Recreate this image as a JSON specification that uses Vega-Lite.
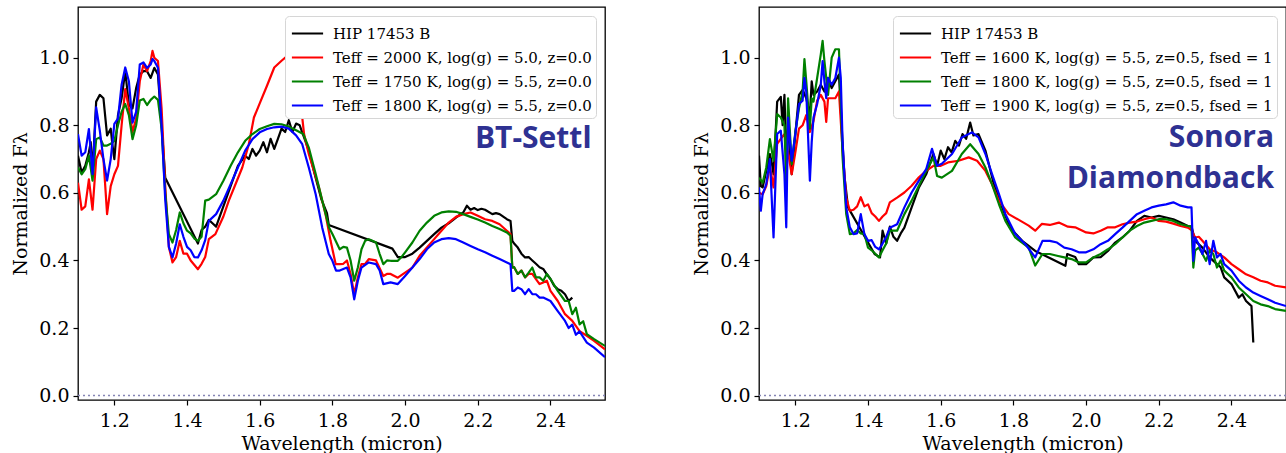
{
"$schema": "https://vega.github.io/schema/vega-lite/v6.json",
"background": "white",
"padding": {"left": 11, "top": 6, "right": 0, "bottom": 0},
"config": {
  "view": {"stroke": "black", "strokeWidth": 1.3},
  "axis": {"labelFont": "DejaVu Serif", "labelFontSize": 19, "labelColor": "black", "titleFont": "DejaVu Serif", "titleFontSize": 19, "titleFontWeight": "normal", "titleColor": "black", "domain": false, "grid": false, "tickColor": "black", "tickSize": 5, "tickWidth": 1.2, "labelPadding": 4},
  "axisX": {"labelPadding": 6, "titlePadding": 4},
  "axisY": {"titlePadding": 8},
  "legend": {"orient": "top-right", "offset": 9, "fillColor": "white", "strokeColor": "#d6d6d6", "cornerRadius": 4, "padding": 4, "labelFont": "DejaVu Serif", "labelFontSize": 15, "labelColor": "black", "labelLimit": 0, "symbolType": "M-1.3,0H1.3", "symbolSize": 576, "symbolStrokeWidth": 2.2, "symbolOffset": 5, "rowPadding": 2, "labelOffset": 12, "title": null}
},
"datasets": {
"bt": [
{"s":"HIP","w":1.10,"f":0.71},{"s":"HIP","w":1.11,"f":0.66},{"s":"HIP","w":1.12,"f":0.68},{"s":"HIP","w":1.13,"f":0.72},{"s":"HIP","w":1.135,"f":0.75},{"s":"HIP","w":1.14,"f":0.66},{"s":"HIP","w":1.15,"f":0.87},{"s":"HIP","w":1.16,"f":0.89},{"s":"HIP","w":1.17,"f":0.88},{"s":"HIP","w":1.18,"f":0.77},{"s":"HIP","w":1.19,"f":0.79},{"s":"HIP","w":1.195,"f":0.74},{"s":"HIP","w":1.20,"f":0.70},{"s":"HIP","w":1.21,"f":0.83},{"s":"HIP","w":1.22,"f":0.88},{"s":"HIP","w":1.23,"f":0.96},{"s":"HIP","w":1.24,"f":0.86},{"s":"HIP","w":1.25,"f":0.85},{"s":"HIP","w":1.26,"f":0.91},{"s":"HIP","w":1.27,"f":0.95},{"s":"HIP","w":1.28,"f":0.96},{"s":"HIP","w":1.29,"f":0.96},{"s":"HIP","w":1.30,"f":0.94},{"s":"HIP","w":1.31,"f":0.97},{"s":"HIP","w":1.32,"f":0.95},{"s":"HIP","w":1.33,"f":0.80},{"s":"HIP","w":1.34,"f":0.645},{"s":"HIP","w":1.43,"f":0.45},{"s":"HIP","w":1.44,"f":0.49},{"s":"HIP","w":1.45,"f":0.50},{"s":"HIP","w":1.46,"f":0.52},{"s":"HIP","w":1.47,"f":0.51},{"s":"HIP","w":1.48,"f":0.50},{"s":"HIP","w":1.50,"f":0.56},{"s":"HIP","w":1.52,"f":0.62},{"s":"HIP","w":1.54,"f":0.68},{"s":"HIP","w":1.56,"f":0.71},{"s":"HIP","w":1.57,"f":0.70},{"s":"HIP","w":1.58,"f":0.73},{"s":"HIP","w":1.59,"f":0.71},{"s":"HIP","w":1.60,"f":0.725},{"s":"HIP","w":1.61,"f":0.75},{"s":"HIP","w":1.62,"f":0.72},{"s":"HIP","w":1.63,"f":0.76},{"s":"HIP","w":1.64,"f":0.73},{"s":"HIP","w":1.65,"f":0.76},{"s":"HIP","w":1.66,"f":0.79},{"s":"HIP","w":1.67,"f":0.78},{"s":"HIP","w":1.68,"f":0.815},{"s":"HIP","w":1.69,"f":0.78},{"s":"HIP","w":1.70,"f":0.805},{"s":"HIP","w":1.71,"f":0.80},{"s":"HIP","w":1.72,"f":0.77},{"s":"HIP","w":1.735,"f":0.725},{"s":"HIP","w":1.75,"f":0.66},{"s":"HIP","w":1.77,"f":0.58},{"s":"HIP","w":1.785,"f":0.54},{"s":"HIP","w":1.79,"f":0.505},{"s":"HIP","w":1.965,"f":0.435},{"s":"HIP","w":1.98,"f":0.41},{"s":"HIP","w":2.00,"f":0.41},{"s":"HIP","w":2.02,"f":0.42},{"s":"HIP","w":2.04,"f":0.438},{"s":"HIP","w":2.06,"f":0.458},{"s":"HIP","w":2.08,"f":0.478},{"s":"HIP","w":2.10,"f":0.497},{"s":"HIP","w":2.12,"f":0.51},{"s":"HIP","w":2.14,"f":0.527},{"s":"HIP","w":2.16,"f":0.542},{"s":"HIP","w":2.17,"f":0.562},{"s":"HIP","w":2.18,"f":0.55},{"s":"HIP","w":2.19,"f":0.555},{"s":"HIP","w":2.20,"f":0.549},{"s":"HIP","w":2.21,"f":0.553},{"s":"HIP","w":2.22,"f":0.55},{"s":"HIP","w":2.24,"f":0.537},{"s":"HIP","w":2.25,"f":0.54},{"s":"HIP","w":2.26,"f":0.537},{"s":"HIP","w":2.28,"f":0.522},{"s":"HIP","w":2.29,"f":0.517},{"s":"HIP","w":2.295,"f":0.458},{"s":"HIP","w":2.30,"f":0.45},{"s":"HIP","w":2.31,"f":0.438},{"s":"HIP","w":2.32,"f":0.42},{"s":"HIP","w":2.33,"f":0.409},{"s":"HIP","w":2.34,"f":0.41},{"s":"HIP","w":2.35,"f":0.40},{"s":"HIP","w":2.36,"f":0.39},{"s":"HIP","w":2.37,"f":0.38},{"s":"HIP","w":2.38,"f":0.375},{"s":"HIP","w":2.39,"f":0.359},{"s":"HIP","w":2.40,"f":0.345},{"s":"HIP","w":2.41,"f":0.325},{"s":"HIP","w":2.42,"f":0.315},{"s":"HIP","w":2.43,"f":0.31},{"s":"HIP","w":2.44,"f":0.30},{"s":"HIP","w":2.45,"f":0.28},{"s":"HIP","w":2.46,"f":0.29},
{"s":"A","w":1.10,"f":0.63},{"s":"A","w":1.11,"f":0.55},{"s":"A","w":1.12,"f":0.56},{"s":"A","w":1.13,"f":0.64},{"s":"A","w":1.14,"f":0.55},{"s":"A","w":1.15,"f":0.70},{"s":"A","w":1.16,"f":0.725},{"s":"A","w":1.17,"f":0.70},{"s":"A","w":1.175,"f":0.62},{"s":"A","w":1.18,"f":0.537},{"s":"A","w":1.19,"f":0.62},{"s":"A","w":1.20,"f":0.655},{"s":"A","w":1.21,"f":0.68},{"s":"A","w":1.22,"f":0.80},{"s":"A","w":1.23,"f":0.907},{"s":"A","w":1.24,"f":0.85},{"s":"A","w":1.25,"f":0.78},{"s":"A","w":1.26,"f":0.82},{"s":"A","w":1.27,"f":0.93},{"s":"A","w":1.28,"f":0.98},{"s":"A","w":1.29,"f":0.96},{"s":"A","w":1.30,"f":0.99},{"s":"A","w":1.305,"f":1.02},{"s":"A","w":1.31,"f":1.00},{"s":"A","w":1.32,"f":0.99},{"s":"A","w":1.33,"f":0.85},{"s":"A","w":1.34,"f":0.62},{"s":"A","w":1.35,"f":0.44},{"s":"A","w":1.36,"f":0.394},{"s":"A","w":1.37,"f":0.41},{"s":"A","w":1.38,"f":0.458},{"s":"A","w":1.39,"f":0.42},{"s":"A","w":1.40,"f":0.42},{"s":"A","w":1.41,"f":0.40},{"s":"A","w":1.43,"f":0.374},{"s":"A","w":1.44,"f":0.39},{"s":"A","w":1.45,"f":0.41},{"s":"A","w":1.46,"f":0.463},{"s":"A","w":1.478,"f":0.478},{"s":"A","w":1.50,"f":0.53},{"s":"A","w":1.515,"f":0.577},{"s":"A","w":1.535,"f":0.63},{"s":"A","w":1.552,"f":0.675},{"s":"A","w":1.57,"f":0.744},{"s":"A","w":1.584,"f":0.823},{"s":"A","w":1.60,"f":0.865},{"s":"A","w":1.62,"f":0.917},{"s":"A","w":1.64,"f":0.971},{"s":"A","w":1.66,"f":0.991},{"s":"A","w":1.68,"f":1.009},{"s":"A","w":1.69,"f":0.987},{"s":"A","w":1.70,"f":0.932},{"s":"A","w":1.712,"f":0.873},{"s":"A","w":1.722,"f":0.774},{"s":"A","w":1.735,"f":0.715},{"s":"A","w":1.763,"f":0.616},{"s":"A","w":1.781,"f":0.537},{"s":"A","w":1.795,"f":0.458},{"s":"A","w":1.809,"f":0.389},{"s":"A","w":1.82,"f":0.389},{"s":"A","w":1.83,"f":0.39},{"s":"A","w":1.84,"f":0.40},{"s":"A","w":1.85,"f":0.36},{"s":"A","w":1.86,"f":0.30},{"s":"A","w":1.87,"f":0.35},{"s":"A","w":1.88,"f":0.389},{"s":"A","w":1.89,"f":0.39},{"s":"A","w":1.90,"f":0.404},{"s":"A","w":1.92,"f":0.40},{"s":"A","w":1.94,"f":0.354},{"s":"A","w":1.95,"f":0.36},{"s":"A","w":1.96,"f":0.36},{"s":"A","w":1.98,"f":0.349},{"s":"A","w":2.00,"f":0.364},{"s":"A","w":2.02,"f":0.379},{"s":"A","w":2.04,"f":0.414},{"s":"A","w":2.06,"f":0.438},{"s":"A","w":2.08,"f":0.463},{"s":"A","w":2.10,"f":0.488},{"s":"A","w":2.12,"f":0.512},{"s":"A","w":2.14,"f":0.529},{"s":"A","w":2.16,"f":0.537},{"s":"A","w":2.18,"f":0.542},{"s":"A","w":2.20,"f":0.532},{"s":"A","w":2.22,"f":0.522},{"s":"A","w":2.24,"f":0.517},{"s":"A","w":2.26,"f":0.507},{"s":"A","w":2.28,"f":0.488},{"s":"A","w":2.29,"f":0.478},{"s":"A","w":2.295,"f":0.379},{"s":"A","w":2.30,"f":0.38},{"s":"A","w":2.31,"f":0.36},{"s":"A","w":2.32,"f":0.37},{"s":"A","w":2.33,"f":0.35},{"s":"A","w":2.34,"f":0.36},{"s":"A","w":2.35,"f":0.36},{"s":"A","w":2.36,"f":0.345},{"s":"A","w":2.37,"f":0.33},{"s":"A","w":2.38,"f":0.335},{"s":"A","w":2.39,"f":0.34},{"s":"A","w":2.40,"f":0.31},{"s":"A","w":2.42,"f":0.28},{"s":"A","w":2.44,"f":0.241},{"s":"A","w":2.46,"f":0.221},{"s":"A","w":2.48,"f":0.191},{"s":"A","w":2.50,"f":0.177},{"s":"A","w":2.52,"f":0.162},{"s":"A","w":2.55,"f":0.137},
{"s":"B","w":1.10,"f":0.675},{"s":"B","w":1.11,"f":0.655},{"s":"B","w":1.12,"f":0.67},{"s":"B","w":1.13,"f":0.71},{"s":"B","w":1.14,"f":0.636},{"s":"B","w":1.15,"f":0.759},{"s":"B","w":1.16,"f":0.764},{"s":"B","w":1.17,"f":0.74},{"s":"B","w":1.18,"f":0.74},{"s":"B","w":1.19,"f":0.745},{"s":"B","w":1.20,"f":0.754},{"s":"B","w":1.21,"f":0.80},{"s":"B","w":1.22,"f":0.84},{"s":"B","w":1.23,"f":0.863},{"s":"B","w":1.24,"f":0.83},{"s":"B","w":1.25,"f":0.759},{"s":"B","w":1.26,"f":0.80},{"s":"B","w":1.27,"f":0.873},{"s":"B","w":1.28,"f":0.878},{"s":"B","w":1.29,"f":0.86},{"s":"B","w":1.30,"f":0.875},{"s":"B","w":1.31,"f":0.885},{"s":"B","w":1.32,"f":0.875},{"s":"B","w":1.33,"f":0.79},{"s":"B","w":1.34,"f":0.60},{"s":"B","w":1.35,"f":0.478},{"s":"B","w":1.36,"f":0.453},{"s":"B","w":1.37,"f":0.49},{"s":"B","w":1.38,"f":0.542},{"s":"B","w":1.39,"f":0.51},{"s":"B","w":1.40,"f":0.488},{"s":"B","w":1.41,"f":0.48},{"s":"B","w":1.42,"f":0.465},{"s":"B","w":1.43,"f":0.458},{"s":"B","w":1.44,"f":0.47},{"s":"B","w":1.45,"f":0.577},{"s":"B","w":1.46,"f":0.58},{"s":"B","w":1.48,"f":0.596},{"s":"B","w":1.50,"f":0.636},{"s":"B","w":1.52,"f":0.68},{"s":"B","w":1.54,"f":0.72},{"s":"B","w":1.56,"f":0.754},{"s":"B","w":1.58,"f":0.774},{"s":"B","w":1.60,"f":0.789},{"s":"B","w":1.62,"f":0.797},{"s":"B","w":1.64,"f":0.804},{"s":"B","w":1.66,"f":0.803},{"s":"B","w":1.68,"f":0.796},{"s":"B","w":1.70,"f":0.785},{"s":"B","w":1.72,"f":0.774},{"s":"B","w":1.735,"f":0.734},{"s":"B","w":1.754,"f":0.656},{"s":"B","w":1.772,"f":0.577},{"s":"B","w":1.791,"f":0.497},{"s":"B","w":1.80,"f":0.478},{"s":"B","w":1.82,"f":0.433},{"s":"B","w":1.83,"f":0.44},{"s":"B","w":1.84,"f":0.438},{"s":"B","w":1.85,"f":0.40},{"s":"B","w":1.86,"f":0.34},{"s":"B","w":1.87,"f":0.379},{"s":"B","w":1.88,"f":0.433},{"s":"B","w":1.89,"f":0.458},{"s":"B","w":1.90,"f":0.463},{"s":"B","w":1.91,"f":0.458},{"s":"B","w":1.92,"f":0.453},{"s":"B","w":1.93,"f":0.419},{"s":"B","w":1.94,"f":0.389},{"s":"B","w":1.95,"f":0.40},{"s":"B","w":1.96,"f":0.399},{"s":"B","w":1.98,"f":0.399},{"s":"B","w":1.99,"f":0.41},{"s":"B","w":2.00,"f":0.424},{"s":"B","w":2.02,"f":0.453},{"s":"B","w":2.04,"f":0.488},{"s":"B","w":2.06,"f":0.512},{"s":"B","w":2.08,"f":0.532},{"s":"B","w":2.10,"f":0.542},{"s":"B","w":2.12,"f":0.545},{"s":"B","w":2.14,"f":0.544},{"s":"B","w":2.16,"f":0.537},{"s":"B","w":2.18,"f":0.529},{"s":"B","w":2.20,"f":0.521},{"s":"B","w":2.22,"f":0.512},{"s":"B","w":2.24,"f":0.502},{"s":"B","w":2.26,"f":0.493},{"s":"B","w":2.28,"f":0.483},{"s":"B","w":2.29,"f":0.473},{"s":"B","w":2.295,"f":0.379},{"s":"B","w":2.30,"f":0.38},{"s":"B","w":2.31,"f":0.36},{"s":"B","w":2.32,"f":0.37},{"s":"B","w":2.33,"f":0.35},{"s":"B","w":2.34,"f":0.364},{"s":"B","w":2.35,"f":0.379},{"s":"B","w":2.36,"f":0.35},{"s":"B","w":2.37,"f":0.35},{"s":"B","w":2.38,"f":0.34},{"s":"B","w":2.39,"f":0.36},{"s":"B","w":2.40,"f":0.345},{"s":"B","w":2.42,"f":0.31},{"s":"B","w":2.44,"f":0.28},{"s":"B","w":2.45,"f":0.28},{"s":"B","w":2.46,"f":0.241},{"s":"B","w":2.47,"f":0.26},{"s":"B","w":2.48,"f":0.211},{"s":"B","w":2.49,"f":0.22},{"s":"B","w":2.50,"f":0.182},{"s":"B","w":2.52,"f":0.167},{"s":"B","w":2.55,"f":0.147},
{"s":"C","w":1.10,"f":0.774},{"s":"C","w":1.11,"f":0.71},{"s":"C","w":1.12,"f":0.72},{"s":"C","w":1.13,"f":0.789},{"s":"C","w":1.14,"f":0.655},{"s":"C","w":1.15,"f":0.853},{"s":"C","w":1.16,"f":0.784},{"s":"C","w":1.17,"f":0.70},{"s":"C","w":1.18,"f":0.636},{"s":"C","w":1.19,"f":0.70},{"s":"C","w":1.20,"f":0.804},{"s":"C","w":1.21,"f":0.82},{"s":"C","w":1.22,"f":0.92},{"s":"C","w":1.23,"f":0.971},{"s":"C","w":1.24,"f":0.93},{"s":"C","w":1.25,"f":0.808},{"s":"C","w":1.26,"f":0.84},{"s":"C","w":1.27,"f":0.98},{"s":"C","w":1.28,"f":0.986},{"s":"C","w":1.29,"f":0.97},{"s":"C","w":1.30,"f":0.98},{"s":"C","w":1.305,"f":0.996},{"s":"C","w":1.31,"f":0.99},{"s":"C","w":1.32,"f":0.97},{"s":"C","w":1.33,"f":0.80},{"s":"C","w":1.34,"f":0.58},{"s":"C","w":1.35,"f":0.44},{"s":"C","w":1.36,"f":0.409},{"s":"C","w":1.37,"f":0.45},{"s":"C","w":1.38,"f":0.507},{"s":"C","w":1.39,"f":0.47},{"s":"C","w":1.40,"f":0.44},{"s":"C","w":1.41,"f":0.43},{"s":"C","w":1.42,"f":0.41},{"s":"C","w":1.43,"f":0.409},{"s":"C","w":1.44,"f":0.43},{"s":"C","w":1.45,"f":0.46},{"s":"C","w":1.46,"f":0.517},{"s":"C","w":1.48,"f":0.537},{"s":"C","w":1.50,"f":0.577},{"s":"C","w":1.52,"f":0.626},{"s":"C","w":1.54,"f":0.675},{"s":"C","w":1.56,"f":0.725},{"s":"C","w":1.58,"f":0.759},{"s":"C","w":1.60,"f":0.779},{"s":"C","w":1.62,"f":0.789},{"s":"C","w":1.64,"f":0.794},{"s":"C","w":1.66,"f":0.796},{"s":"C","w":1.68,"f":0.79},{"s":"C","w":1.70,"f":0.77},{"s":"C","w":1.717,"f":0.744},{"s":"C","w":1.735,"f":0.675},{"s":"C","w":1.754,"f":0.596},{"s":"C","w":1.772,"f":0.497},{"s":"C","w":1.79,"f":0.419},{"s":"C","w":1.80,"f":0.399},{"s":"C","w":1.81,"f":0.37},{"s":"C","w":1.82,"f":0.37},{"s":"C","w":1.84,"f":0.379},{"s":"C","w":1.85,"f":0.35},{"s":"C","w":1.86,"f":0.285},{"s":"C","w":1.87,"f":0.34},{"s":"C","w":1.88,"f":0.379},{"s":"C","w":1.90,"f":0.394},{"s":"C","w":1.92,"f":0.389},{"s":"C","w":1.93,"f":0.37},{"s":"C","w":1.94,"f":0.33},{"s":"C","w":1.96,"f":0.335},{"s":"C","w":1.98,"f":0.33},{"s":"C","w":2.00,"f":0.354},{"s":"C","w":2.02,"f":0.379},{"s":"C","w":2.04,"f":0.404},{"s":"C","w":2.06,"f":0.433},{"s":"C","w":2.08,"f":0.453},{"s":"C","w":2.10,"f":0.463},{"s":"C","w":2.12,"f":0.466},{"s":"C","w":2.14,"f":0.463},{"s":"C","w":2.16,"f":0.453},{"s":"C","w":2.18,"f":0.443},{"s":"C","w":2.20,"f":0.433},{"s":"C","w":2.22,"f":0.424},{"s":"C","w":2.24,"f":0.414},{"s":"C","w":2.26,"f":0.404},{"s":"C","w":2.28,"f":0.394},{"s":"C","w":2.29,"f":0.389},{"s":"C","w":2.295,"f":0.31},{"s":"C","w":2.30,"f":0.31},{"s":"C","w":2.31,"f":0.32},{"s":"C","w":2.32,"f":0.315},{"s":"C","w":2.33,"f":0.30},{"s":"C","w":2.34,"f":0.315},{"s":"C","w":2.35,"f":0.30},{"s":"C","w":2.36,"f":0.30},{"s":"C","w":2.37,"f":0.29},{"s":"C","w":2.38,"f":0.29},{"s":"C","w":2.39,"f":0.285},{"s":"C","w":2.40,"f":0.28},{"s":"C","w":2.42,"f":0.25},{"s":"C","w":2.44,"f":0.221},{"s":"C","w":2.45,"f":0.20},{"s":"C","w":2.46,"f":0.21},{"s":"C","w":2.47,"f":0.18},{"s":"C","w":2.48,"f":0.19},{"s":"C","w":2.50,"f":0.157},{"s":"C","w":2.52,"f":0.142},{"s":"C","w":2.55,"f":0.114}
],
"sd": [
{"s":"HIP","w":1.10,"f":0.71},{"s":"HIP","w":1.105,"f":0.62},{"s":"HIP","w":1.11,"f":0.616},{"s":"HIP","w":1.12,"f":0.665},{"s":"HIP","w":1.13,"f":0.715},{"s":"HIP","w":1.135,"f":0.69},{"s":"HIP","w":1.14,"f":0.655},{"s":"HIP","w":1.15,"f":0.87},{"s":"HIP","w":1.16,"f":0.884},{"s":"HIP","w":1.165,"f":0.80},{"s":"HIP","w":1.17,"f":0.89},{"s":"HIP","w":1.175,"f":0.72},{"s":"HIP","w":1.18,"f":0.79},{"s":"HIP","w":1.19,"f":0.655},{"s":"HIP","w":1.20,"f":0.774},{"s":"HIP","w":1.21,"f":0.89},{"s":"HIP","w":1.22,"f":0.905},{"s":"HIP","w":1.23,"f":0.88},{"s":"HIP","w":1.24,"f":0.83},{"s":"HIP","w":1.245,"f":0.93},{"s":"HIP","w":1.25,"f":0.89},{"s":"HIP","w":1.26,"f":0.90},{"s":"HIP","w":1.27,"f":0.92},{"s":"HIP","w":1.28,"f":0.90},{"s":"HIP","w":1.29,"f":0.94},{"s":"HIP","w":1.30,"f":0.91},{"s":"HIP","w":1.31,"f":0.93},{"s":"HIP","w":1.32,"f":0.95},{"s":"HIP","w":1.33,"f":0.745},{"s":"HIP","w":1.335,"f":0.65},{"s":"HIP","w":1.345,"f":0.557},{"s":"HIP","w":1.418,"f":0.419},{"s":"HIP","w":1.433,"f":0.409},{"s":"HIP","w":1.44,"f":0.488},{"s":"HIP","w":1.45,"f":0.45},{"s":"HIP","w":1.46,"f":0.50},{"s":"HIP","w":1.47,"f":0.47},{"s":"HIP","w":1.48,"f":0.458},{"s":"HIP","w":1.49,"f":0.48},{"s":"HIP","w":1.50,"f":0.497},{"s":"HIP","w":1.52,"f":0.557},{"s":"HIP","w":1.54,"f":0.616},{"s":"HIP","w":1.56,"f":0.655},{"s":"HIP","w":1.58,"f":0.715},{"s":"HIP","w":1.59,"f":0.68},{"s":"HIP","w":1.60,"f":0.725},{"s":"HIP","w":1.61,"f":0.70},{"s":"HIP","w":1.62,"f":0.735},{"s":"HIP","w":1.63,"f":0.72},{"s":"HIP","w":1.64,"f":0.754},{"s":"HIP","w":1.65,"f":0.74},{"s":"HIP","w":1.66,"f":0.774},{"s":"HIP","w":1.67,"f":0.76},{"s":"HIP","w":1.681,"f":0.808},{"s":"HIP","w":1.69,"f":0.77},{"s":"HIP","w":1.704,"f":0.774},{"s":"HIP","w":1.723,"f":0.725},{"s":"HIP","w":1.746,"f":0.626},{"s":"HIP","w":1.769,"f":0.557},{"s":"HIP","w":1.791,"f":0.497},{"s":"HIP","w":1.824,"f":0.458},{"s":"HIP","w":1.86,"f":0.428},{"s":"HIP","w":1.897,"f":0.409},{"s":"HIP","w":1.943,"f":0.384},{"s":"HIP","w":1.948,"f":0.419},{"s":"HIP","w":1.97,"f":0.41},{"s":"HIP","w":1.98,"f":0.389},{"s":"HIP","w":2.00,"f":0.389},{"s":"HIP","w":2.02,"f":0.409},{"s":"HIP","w":2.04,"f":0.41},{"s":"HIP","w":2.06,"f":0.428},{"s":"HIP","w":2.08,"f":0.453},{"s":"HIP","w":2.10,"f":0.468},{"s":"HIP","w":2.12,"f":0.488},{"s":"HIP","w":2.14,"f":0.517},{"s":"HIP","w":2.16,"f":0.532},{"s":"HIP","w":2.18,"f":0.527},{"s":"HIP","w":2.20,"f":0.532},{"s":"HIP","w":2.22,"f":0.527},{"s":"HIP","w":2.24,"f":0.522},{"s":"HIP","w":2.26,"f":0.512},{"s":"HIP","w":2.28,"f":0.502},{"s":"HIP","w":2.29,"f":0.50},{"s":"HIP","w":2.30,"f":0.458},{"s":"HIP","w":2.32,"f":0.438},{"s":"HIP","w":2.34,"f":0.409},{"s":"HIP","w":2.36,"f":0.389},{"s":"HIP","w":2.37,"f":0.38},{"s":"HIP","w":2.38,"f":0.35},{"s":"HIP","w":2.40,"f":0.33},{"s":"HIP","w":2.42,"f":0.29},{"s":"HIP","w":2.43,"f":0.30},{"s":"HIP","w":2.44,"f":0.28},{"s":"HIP","w":2.45,"f":0.27},{"s":"HIP","w":2.455,"f":0.265},{"s":"HIP","w":2.46,"f":0.157},
{"s":"A","w":1.10,"f":0.60},{"s":"A","w":1.11,"f":0.596},{"s":"A","w":1.12,"f":0.62},{"s":"A","w":1.13,"f":0.68},{"s":"A","w":1.14,"f":0.616},{"s":"A","w":1.15,"f":0.745},{"s":"A","w":1.16,"f":0.76},{"s":"A","w":1.17,"f":0.774},{"s":"A","w":1.18,"f":0.72},{"s":"A","w":1.19,"f":0.655},{"s":"A","w":1.20,"f":0.72},{"s":"A","w":1.21,"f":0.79},{"s":"A","w":1.22,"f":0.80},{"s":"A","w":1.23,"f":0.83},{"s":"A","w":1.24,"f":0.78},{"s":"A","w":1.25,"f":0.813},{"s":"A","w":1.26,"f":0.873},{"s":"A","w":1.27,"f":0.89},{"s":"A","w":1.28,"f":0.87},{"s":"A","w":1.285,"f":0.81},{"s":"A","w":1.29,"f":0.88},{"s":"A","w":1.30,"f":0.88},{"s":"A","w":1.31,"f":0.88},{"s":"A","w":1.32,"f":0.90},{"s":"A","w":1.33,"f":0.725},{"s":"A","w":1.34,"f":0.586},{"s":"A","w":1.35,"f":0.547},{"s":"A","w":1.36,"f":0.55},{"s":"A","w":1.37,"f":0.56},{"s":"A","w":1.38,"f":0.587},{"s":"A","w":1.39,"f":0.56},{"s":"A","w":1.40,"f":0.566},{"s":"A","w":1.41,"f":0.54},{"s":"A","w":1.42,"f":0.53},{"s":"A","w":1.43,"f":0.517},{"s":"A","w":1.44,"f":0.53},{"s":"A","w":1.45,"f":0.54},{"s":"A","w":1.46,"f":0.572},{"s":"A","w":1.48,"f":0.586},{"s":"A","w":1.50,"f":0.601},{"s":"A","w":1.52,"f":0.621},{"s":"A","w":1.54,"f":0.646},{"s":"A","w":1.56,"f":0.665},{"s":"A","w":1.58,"f":0.68},{"s":"A","w":1.60,"f":0.68},{"s":"A","w":1.62,"f":0.69},{"s":"A","w":1.649,"f":0.695},{"s":"A","w":1.677,"f":0.705},{"s":"A","w":1.70,"f":0.695},{"s":"A","w":1.723,"f":0.665},{"s":"A","w":1.741,"f":0.626},{"s":"A","w":1.76,"f":0.577},{"s":"A","w":1.787,"f":0.537},{"s":"A","w":1.815,"f":0.52},{"s":"A","w":1.842,"f":0.503},{"s":"A","w":1.86,"f":0.488},{"s":"A","w":1.878,"f":0.508},{"s":"A","w":1.90,"f":0.505},{"s":"A","w":1.925,"f":0.512},{"s":"A","w":1.95,"f":0.50},{"s":"A","w":1.97,"f":0.498},{"s":"A","w":2.00,"f":0.483},{"s":"A","w":2.02,"f":0.48},{"s":"A","w":2.04,"f":0.488},{"s":"A","w":2.06,"f":0.498},{"s":"A","w":2.08,"f":0.498},{"s":"A","w":2.10,"f":0.507},{"s":"A","w":2.12,"f":0.512},{"s":"A","w":2.14,"f":0.515},{"s":"A","w":2.16,"f":0.522},{"s":"A","w":2.18,"f":0.527},{"s":"A","w":2.20,"f":0.517},{"s":"A","w":2.22,"f":0.515},{"s":"A","w":2.24,"f":0.509},{"s":"A","w":2.26,"f":0.502},{"s":"A","w":2.28,"f":0.497},{"s":"A","w":2.29,"f":0.49},{"s":"A","w":2.30,"f":0.468},{"s":"A","w":2.31,"f":0.47},{"s":"A","w":2.32,"f":0.458},{"s":"A","w":2.34,"f":0.433},{"s":"A","w":2.36,"f":0.424},{"s":"A","w":2.38,"f":0.409},{"s":"A","w":2.40,"f":0.389},{"s":"A","w":2.42,"f":0.374},{"s":"A","w":2.44,"f":0.359},{"s":"A","w":2.46,"f":0.35},{"s":"A","w":2.48,"f":0.34},{"s":"A","w":2.50,"f":0.335},{"s":"A","w":2.52,"f":0.325},{"s":"A","w":2.55,"f":0.32},
{"s":"B","w":1.10,"f":0.645},{"s":"B","w":1.11,"f":0.63},{"s":"B","w":1.12,"f":0.675},{"s":"B","w":1.13,"f":0.759},{"s":"B","w":1.14,"f":0.695},{"s":"B","w":1.15,"f":0.833},{"s":"B","w":1.16,"f":0.823},{"s":"B","w":1.17,"f":0.80},{"s":"B","w":1.175,"f":0.616},{"s":"B","w":1.18,"f":0.88},{"s":"B","w":1.19,"f":0.685},{"s":"B","w":1.20,"f":0.78},{"s":"B","w":1.21,"f":0.85},{"s":"B","w":1.22,"f":0.90},{"s":"B","w":1.225,"f":0.996},{"s":"B","w":1.23,"f":0.93},{"s":"B","w":1.24,"f":0.79},{"s":"B","w":1.245,"f":0.88},{"s":"B","w":1.25,"f":0.87},{"s":"B","w":1.26,"f":0.94},{"s":"B","w":1.27,"f":1.01},{"s":"B","w":1.275,"f":1.05},{"s":"B","w":1.28,"f":0.99},{"s":"B","w":1.29,"f":0.89},{"s":"B","w":1.30,"f":1.00},{"s":"B","w":1.31,"f":1.025},{"s":"B","w":1.32,"f":1.025},{"s":"B","w":1.33,"f":0.705},{"s":"B","w":1.34,"f":0.537},{"s":"B","w":1.35,"f":0.478},{"s":"B","w":1.36,"f":0.48},{"s":"B","w":1.37,"f":0.49},{"s":"B","w":1.38,"f":0.48},{"s":"B","w":1.39,"f":0.478},{"s":"B","w":1.40,"f":0.438},{"s":"B","w":1.41,"f":0.43},{"s":"B","w":1.42,"f":0.42},{"s":"B","w":1.43,"f":0.409},{"s":"B","w":1.44,"f":0.43},{"s":"B","w":1.45,"f":0.45},{"s":"B","w":1.46,"f":0.488},{"s":"B","w":1.48,"f":0.488},{"s":"B","w":1.50,"f":0.537},{"s":"B","w":1.52,"f":0.577},{"s":"B","w":1.54,"f":0.621},{"s":"B","w":1.56,"f":0.665},{"s":"B","w":1.58,"f":0.705},{"s":"B","w":1.59,"f":0.65},{"s":"B","w":1.603,"f":0.645},{"s":"B","w":1.631,"f":0.665},{"s":"B","w":1.658,"f":0.715},{"s":"B","w":1.681,"f":0.744},{"s":"B","w":1.704,"f":0.715},{"s":"B","w":1.723,"f":0.675},{"s":"B","w":1.741,"f":0.626},{"s":"B","w":1.76,"f":0.567},{"s":"B","w":1.778,"f":0.517},{"s":"B","w":1.805,"f":0.468},{"s":"B","w":1.842,"f":0.438},{"s":"B","w":1.86,"f":0.385},{"s":"B","w":1.88,"f":0.419},{"s":"B","w":1.90,"f":0.419},{"s":"B","w":1.92,"f":0.414},{"s":"B","w":1.94,"f":0.409},{"s":"B","w":1.96,"f":0.404},{"s":"B","w":1.98,"f":0.394},{"s":"B","w":2.00,"f":0.394},{"s":"B","w":2.02,"f":0.409},{"s":"B","w":2.04,"f":0.419},{"s":"B","w":2.06,"f":0.433},{"s":"B","w":2.08,"f":0.448},{"s":"B","w":2.10,"f":0.468},{"s":"B","w":2.12,"f":0.488},{"s":"B","w":2.14,"f":0.502},{"s":"B","w":2.16,"f":0.512},{"s":"B","w":2.18,"f":0.517},{"s":"B","w":2.20,"f":0.522},{"s":"B","w":2.22,"f":0.522},{"s":"B","w":2.24,"f":0.517},{"s":"B","w":2.26,"f":0.507},{"s":"B","w":2.28,"f":0.502},{"s":"B","w":2.29,"f":0.50},{"s":"B","w":2.295,"f":0.379},{"s":"B","w":2.30,"f":0.43},{"s":"B","w":2.31,"f":0.438},{"s":"B","w":2.32,"f":0.42},{"s":"B","w":2.33,"f":0.399},{"s":"B","w":2.34,"f":0.43},{"s":"B","w":2.35,"f":0.419},{"s":"B","w":2.36,"f":0.379},{"s":"B","w":2.37,"f":0.40},{"s":"B","w":2.38,"f":0.37},{"s":"B","w":2.40,"f":0.35},{"s":"B","w":2.42,"f":0.32},{"s":"B","w":2.44,"f":0.30},{"s":"B","w":2.46,"f":0.28},{"s":"B","w":2.48,"f":0.27},{"s":"B","w":2.50,"f":0.265},{"s":"B","w":2.52,"f":0.256},{"s":"B","w":2.55,"f":0.251},
{"s":"C","w":1.10,"f":0.616},{"s":"C","w":1.105,"f":0.547},{"s":"C","w":1.11,"f":0.596},{"s":"C","w":1.12,"f":0.626},{"s":"C","w":1.13,"f":0.70},{"s":"C","w":1.14,"f":0.468},{"s":"C","w":1.15,"f":0.774},{"s":"C","w":1.16,"f":0.784},{"s":"C","w":1.17,"f":0.655},{"s":"C","w":1.175,"f":0.498},{"s":"C","w":1.18,"f":0.823},{"s":"C","w":1.19,"f":0.695},{"s":"C","w":1.20,"f":0.774},{"s":"C","w":1.21,"f":0.863},{"s":"C","w":1.22,"f":0.873},{"s":"C","w":1.225,"f":0.94},{"s":"C","w":1.23,"f":0.90},{"s":"C","w":1.24,"f":0.636},{"s":"C","w":1.245,"f":0.75},{"s":"C","w":1.25,"f":0.823},{"s":"C","w":1.26,"f":0.863},{"s":"C","w":1.27,"f":0.92},{"s":"C","w":1.275,"f":0.99},{"s":"C","w":1.28,"f":0.93},{"s":"C","w":1.285,"f":0.88},{"s":"C","w":1.29,"f":0.94},{"s":"C","w":1.30,"f":0.92},{"s":"C","w":1.31,"f":0.94},{"s":"C","w":1.32,"f":1.00},{"s":"C","w":1.325,"f":0.94},{"s":"C","w":1.33,"f":0.75},{"s":"C","w":1.34,"f":0.557},{"s":"C","w":1.35,"f":0.498},{"s":"C","w":1.36,"f":0.478},{"s":"C","w":1.37,"f":0.48},{"s":"C","w":1.38,"f":0.537},{"s":"C","w":1.39,"f":0.478},{"s":"C","w":1.40,"f":0.458},{"s":"C","w":1.41,"f":0.46},{"s":"C","w":1.42,"f":0.44},{"s":"C","w":1.43,"f":0.433},{"s":"C","w":1.44,"f":0.45},{"s":"C","w":1.45,"f":0.47},{"s":"C","w":1.46,"f":0.497},{"s":"C","w":1.48,"f":0.507},{"s":"C","w":1.50,"f":0.557},{"s":"C","w":1.52,"f":0.601},{"s":"C","w":1.54,"f":0.636},{"s":"C","w":1.56,"f":0.67},{"s":"C","w":1.576,"f":0.73},{"s":"C","w":1.59,"f":0.68},{"s":"C","w":1.603,"f":0.686},{"s":"C","w":1.631,"f":0.715},{"s":"C","w":1.658,"f":0.764},{"s":"C","w":1.686,"f":0.779},{"s":"C","w":1.704,"f":0.764},{"s":"C","w":1.723,"f":0.715},{"s":"C","w":1.741,"f":0.656},{"s":"C","w":1.76,"f":0.597},{"s":"C","w":1.778,"f":0.537},{"s":"C","w":1.805,"f":0.478},{"s":"C","w":1.833,"f":0.448},{"s":"C","w":1.86,"f":0.409},{"s":"C","w":1.88,"f":0.458},{"s":"C","w":1.90,"f":0.458},{"s":"C","w":1.92,"f":0.453},{"s":"C","w":1.94,"f":0.438},{"s":"C","w":1.96,"f":0.433},{"s":"C","w":1.98,"f":0.424},{"s":"C","w":2.00,"f":0.424},{"s":"C","w":2.02,"f":0.433},{"s":"C","w":2.04,"f":0.448},{"s":"C","w":2.06,"f":0.458},{"s":"C","w":2.08,"f":0.478},{"s":"C","w":2.10,"f":0.497},{"s":"C","w":2.12,"f":0.517},{"s":"C","w":2.14,"f":0.537},{"s":"C","w":2.16,"f":0.547},{"s":"C","w":2.18,"f":0.557},{"s":"C","w":2.20,"f":0.562},{"s":"C","w":2.22,"f":0.566},{"s":"C","w":2.24,"f":0.572},{"s":"C","w":2.26,"f":0.562},{"s":"C","w":2.28,"f":0.557},{"s":"C","w":2.29,"f":0.557},{"s":"C","w":2.295,"f":0.399},{"s":"C","w":2.30,"f":0.468},{"s":"C","w":2.31,"f":0.448},{"s":"C","w":2.32,"f":0.419},{"s":"C","w":2.33,"f":0.458},{"s":"C","w":2.34,"f":0.389},{"s":"C","w":2.35,"f":0.458},{"s":"C","w":2.36,"f":0.409},{"s":"C","w":2.37,"f":0.419},{"s":"C","w":2.38,"f":0.389},{"s":"C","w":2.40,"f":0.37},{"s":"C","w":2.42,"f":0.34},{"s":"C","w":2.44,"f":0.32},{"s":"C","w":2.46,"f":0.305},{"s":"C","w":2.48,"f":0.295},{"s":"C","w":2.50,"f":0.285},{"s":"C","w":2.52,"f":0.275},{"s":"C","w":2.55,"f":0.265}
]
},
"hconcat": [
{
  "width": 527, "height": 393,
  "layer": [
    {"data": {"name": "bt"},
     "mark": {"type": "line", "strokeWidth": 2.2, "strokeJoin": "round", "clip": true},
     "encoding": {
       "x": {"field": "w", "type": "quantitative", "scale": {"domain": [1.1, 2.55], "nice": false, "zero": false}, "axis": {"values": [1.2, 1.4, 1.6, 1.8, 2.0, 2.2, 2.4], "format": ".1f", "title": "Wavelength (micron)"}},
       "y": {"field": "f", "type": "quantitative", "scale": {"domain": [-0.013, 1.15], "nice": false, "zero": false}, "axis": {"values": [0, 0.2, 0.4, 0.6, 0.8, 1.0], "format": ".1f", "title": "Normalized Fλ"}},
       "color": {"field": "s", "type": "nominal", "scale": {"domain": ["HIP", "A", "B", "C"], "range": ["#000000", "#ff0000", "#008000", "#0000ff"]},
         "legend": {"labelExpr": "datum.label == 'HIP' ? 'HIP 17453 B' : datum.label == 'A' ? 'Teff = 2000 K, log(g) = 5.0, z=0.0' : datum.label == 'B' ? 'Teff = 1750 K, log(g) = 5.5, z=0.0' : 'Teff = 1800 K, log(g) = 5.5, z=0.0'"}}
     }},
    {"data": {"values": [{}]},
     "mark": {"type": "rule", "color": "#8585b5", "strokeDash": [2, 3], "strokeWidth": 1.5},
     "encoding": {"y": {"datum": 0}}},
    {"data": {"values": [{}]},
     "mark": {"type": "text", "text": "BT-Settl", "font": "Open Sans", "fontWeight": "bold", "fontSize": 30, "color": "#2e3192", "align": "right", "baseline": "alphabetic"},
     "encoding": {"x": {"datum": 2.513}, "y": {"datum": 0.733}}}
  ]
},
{
  "width": 527, "height": 393,
  "layer": [
    {"data": {"name": "sd"},
     "mark": {"type": "line", "strokeWidth": 2.2, "strokeJoin": "round", "clip": true},
     "encoding": {
       "x": {"field": "w", "type": "quantitative", "scale": {"domain": [1.1, 2.55], "nice": false, "zero": false}, "axis": {"values": [1.2, 1.4, 1.6, 1.8, 2.0, 2.2, 2.4], "format": ".1f", "title": "Wavelength (micron)"}},
       "y": {"field": "f", "type": "quantitative", "scale": {"domain": [-0.013, 1.15], "nice": false, "zero": false}, "axis": {"values": [0, 0.2, 0.4, 0.6, 0.8, 1.0], "format": ".1f", "title": "Normalized Fλ"}},
       "color": {"field": "s", "type": "nominal", "scale": {"domain": ["HIP", "A", "B", "C"], "range": ["#000000", "#ff0000", "#008000", "#0000ff"]},
         "legend": {"labelExpr": "datum.label == 'HIP' ? 'HIP 17453 B' : datum.label == 'A' ? 'Teff = 1600 K, log(g) = 5.5, z=0.5, fsed = 1' : datum.label == 'B' ? 'Teff = 1800 K, log(g) = 5.5, z=0.5, fsed = 1' : 'Teff = 1900 K, log(g) = 5.5, z=0.5, fsed = 1'"}}
     }},
    {"data": {"values": [{}]},
     "mark": {"type": "rule", "color": "#8585b5", "strokeDash": [2, 3], "strokeWidth": 1.5},
     "encoding": {"y": {"datum": 0}}},
    {"data": {"values": [{}]},
     "mark": {"type": "text", "text": ["Sonora", "Diamondback"], "lineHeight": 41, "font": "Open Sans", "fontWeight": "bold", "fontSize": 30, "color": "#2e3192", "align": "right", "baseline": "alphabetic"},
     "encoding": {"x": {"datum": 2.517}, "y": {"datum": 0.737}}}
  ]
}
],
"spacing": 85,
"resolve": {"scale": {"color": "independent"}, "legend": {"color": "independent"}}
}
